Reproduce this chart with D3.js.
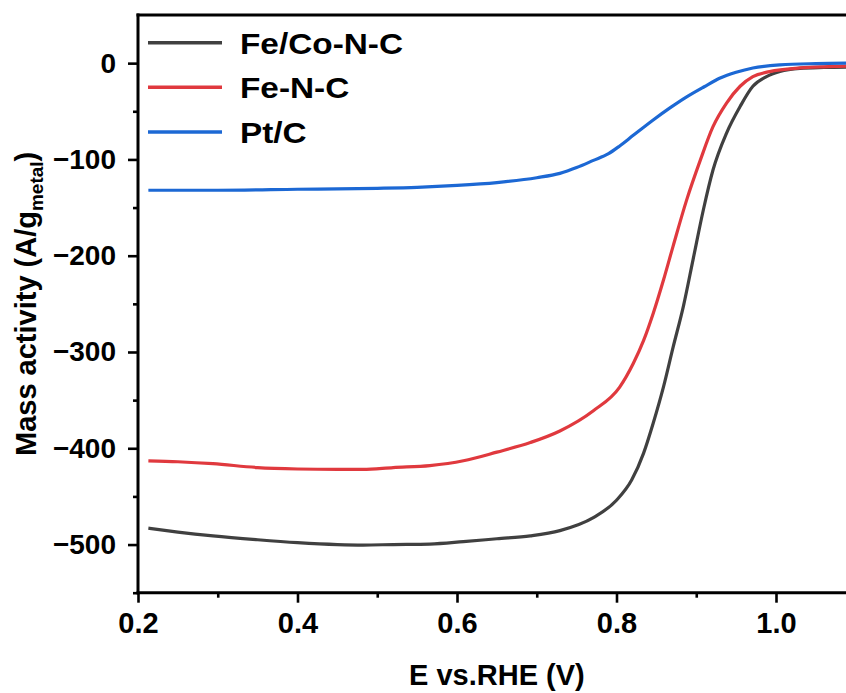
<!DOCTYPE html>
<html>
<head>
<meta charset="utf-8">
<script src="https://cdn.jsdelivr.net/npm/d3@7"></script>
<style>
  html, body { margin: 0; padding: 0; background: #fff; }
  svg { display: block; }
  text { font-family: "Liberation Sans", Arial, sans-serif; font-weight: bold; fill: #000; }
</style>
</head>
<body>
<svg id="chart" width="846" height="693"></svg>
<script>
// Potential (V vs. RHE) and mass activity (A/g_metal) for each catalyst
const feCoE = [0.213, 0.25, 0.294, 0.35, 0.40, 0.45, 0.482, 0.52, 0.566, 0.608, 0.65, 0.692, 0.729, 0.771, 0.80, 0.819, 0.834, 0.846, 0.859, 0.871, 0.884, 0.896, 0.909, 0.921, 0.938, 0.955, 0.971, 0.988, 1.005, 1.03, 1.06, 1.10];
const feCoI = [-483, -487, -491, -495, -498, -500, -500.5, -500, -499.5, -497, -494, -491, -485.5, -472, -454, -433, -405, -374, -336, -295, -252, -204, -152, -111, -72.6, -45, -24, -14, -8.7, -5.5, -4.5, -4];

const feE = [0.213, 0.25, 0.294, 0.35, 0.40, 0.45, 0.482, 0.52, 0.566, 0.608, 0.65, 0.692, 0.729, 0.771, 0.804, 0.821, 0.834, 0.846, 0.859, 0.871, 0.888, 0.905, 0.921, 0.938, 0.955, 0.971, 0.992, 1.03, 1.06, 1.10];
const feI = [-413, -414, -416, -420, -421.5, -422, -422, -420, -418, -413, -404, -394, -382, -361, -336.5, -312, -288, -260, -225, -190, -142, -101, -66, -41.5, -24, -14, -8.8, -5, -3.8, -3];

const ptE = [0.213, 0.30, 0.40, 0.50, 0.55, 0.60, 0.65, 0.70, 0.729, 0.75, 0.771, 0.79, 0.804, 0.821, 0.846, 0.867, 0.888, 0.91, 0.93, 0.95, 0.971, 1.005, 1.05, 1.10];
const ptI = [-132, -132, -131, -130, -129, -127, -124, -119, -114.5, -108.5, -101, -94, -86, -75, -59, -46.5, -35, -24.5, -15.5, -9.5, -5, -1.8, -0.5, 0];

const seriesNames = ["Fe/Co-N-C", "Fe-N-C", "Pt/C"];
const seriesColors = ["#404040", "#e0393e", "#1c68d4"];

const xMajorTicks = [0.2, 0.4, 0.6, 0.8, 1.0];
const xMinorTicks = [0.3, 0.5, 0.7, 0.9, 1.1];
const yMajorTicks = [0, -100, -200, -300, -400, -500];
const yMinorTicks = [-50, -150, -250, -350, -450, -550];

const xTitle = "E vs.RHE (V)";
const yTitleMain = "Mass activity (A/g";
const yTitleSub = "metal";

const svg = d3.select("#chart");
const plotLeft = 138, plotRight = 855.75, plotTop = 15, plotBottom = 592.7;

const x = d3.scaleLinear().domain([0.2, 1.1]).range([plotLeft, plotRight]);
const y = d3.scaleLinear().domain([-550, 50]).range([plotBottom, plotTop]);

svg.append("defs").append("clipPath").attr("id", "plotClip")
  .append("rect").attr("x", plotLeft).attr("y", plotTop)
  .attr("width", plotRight - plotLeft).attr("height", plotBottom - plotTop);

// curves (Pt/C drawn last so it sits on top at the plateau)
const series = [
  d3.zip(feCoE, feCoI),
  d3.zip(feE, feI),
  d3.zip(ptE, ptI)
];
const line = d3.line().x(d => x(d[0])).y(d => y(d[1])).curve(d3.curveMonotoneX);

const plot = svg.append("g").attr("clip-path", "url(#plotClip)");
series.forEach((s, i) => {
  plot.append("path")
    .datum(s)
    .attr("d", line)
    .attr("fill", "none")
    .attr("stroke", seriesColors[i])
    .attr("stroke-width", 3.2)
    .attr("stroke-linejoin", "round");
});

// axes
function styleAxis(g, w) {
  g.select(".domain").remove();
  g.selectAll(".tick line").attr("stroke", "#000").attr("stroke-width", w);
}

const xMajor = svg.append("g").attr("transform", `translate(0,${plotBottom})`)
  .call(d3.axisBottom(x).tickValues(xMajorTicks).tickSize(10).tickPadding(10).tickFormat(d3.format(".1f")));
styleAxis(xMajor, 2.6);
xMajor.selectAll("text").attr("font-size", 29).attr("fill", "#000")
  .attr("font-family", "Liberation Sans, Arial, sans-serif").attr("font-weight", "bold");

const xMinor = svg.append("g").attr("transform", `translate(0,${plotBottom})`)
  .call(d3.axisBottom(x).tickValues(xMinorTicks).tickSize(5).tickFormat(""));
styleAxis(xMinor, 2.6);

const fmtY = d => d3.format("d")(d).replace("-", "\u2212");
const yMajor = svg.append("g").attr("transform", `translate(${plotLeft},0)`)
  .call(d3.axisLeft(y).tickValues(yMajorTicks).tickSize(10).tickPadding(12).tickFormat(fmtY));
styleAxis(yMajor, 2.6);
yMajor.selectAll("text").attr("font-size", 28).attr("fill", "#000")
  .attr("font-family", "Liberation Sans, Arial, sans-serif").attr("font-weight", "bold");

const yMinor = svg.append("g").attr("transform", `translate(${plotLeft},0)`)
  .call(d3.axisLeft(y).tickValues(yMinorTicks).tickSize(5).tickFormat(""));
styleAxis(yMinor, 2.6);

// frame: left axis, bottom axis, top border
svg.append("line").attr("x1", plotLeft).attr("x2", plotLeft).attr("y1", plotTop - 1.5).attr("y2", plotBottom + 1.5)
  .attr("stroke", "#000").attr("stroke-width", 3);
svg.append("line").attr("x1", plotLeft - 1.5).attr("x2", 846).attr("y1", plotBottom).attr("y2", plotBottom)
  .attr("stroke", "#000").attr("stroke-width", 3);
svg.append("line").attr("x1", plotLeft - 1.5).attr("x2", 846).attr("y1", plotTop).attr("y2", plotTop)
  .attr("stroke", "#000").attr("stroke-width", 3);

// axis titles
svg.append("text").attr("x", (plotLeft + plotRight) / 2).attr("y", 685)
  .attr("text-anchor", "middle").attr("font-size", 29).text(xTitle);

const yt = svg.append("text")
  .attr("transform", `translate(36,${(plotTop + plotBottom) / 2}) rotate(-90)`)
  .attr("text-anchor", "middle").attr("font-size", 29);
yt.append("tspan").text(yTitleMain);
yt.append("tspan").attr("font-size", 19).attr("dy", 7).text(yTitleSub);
yt.append("tspan").attr("dy", -7).text(")");

// legend
const legendY = [42.7, 87.3, 132];
const legend = svg.append("g");
seriesNames.forEach((name, i) => {
  legend.append("line")
    .attr("x1", 148).attr("x2", 222).attr("y1", legendY[i]).attr("y2", legendY[i])
    .attr("stroke", seriesColors[i]).attr("stroke-width", 3.5);
  legend.append("text")
    .attr("transform", `translate(240,${legendY[i] + 11}) scale(1.15,1)`)
    .attr("font-size", 29).text(name);
});
</script>
</body>
</html>
